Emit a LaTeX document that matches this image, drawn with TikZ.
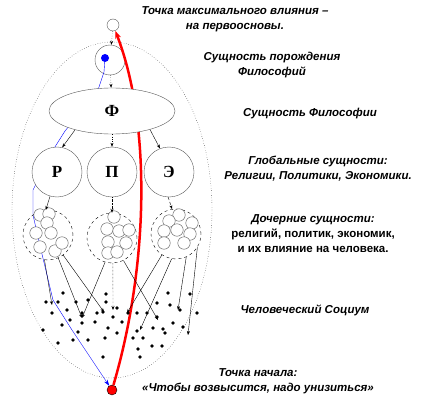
\documentclass[tikz,border=0pt]{standalone}
\usepackage{fontspec}
\setmainfont{Liberation Serif}
\setsansfont{Liberation Sans}
\usepackage{tikz}
\usetikzlibrary{shapes.geometric,arrows.meta,positioning,backgrounds}

\begin{document}
\begin{tikzpicture}[x=1pt, y=-1pt,
    ent/.style={circle, draw=black!65, fill=white, inner sep=0pt},
    big/.style={ent, minimum size=50pt, font=\rmfamily\bfseries\fontsize{17}{17}\selectfont},
    ball/.style={ent, minimum size=12.5pt},
    grp/.style={circle, draw, dashed, minimum size=50pt, inner sep=0pt},
    arr/.style={-{Stealth[length=4pt, width=3pt]}, thin},
    txt/.style={align=center, font=\sffamily\bfseries\itshape\fontsize{11.5}{15}\selectfont}]

    \useasboundingbox (0,0) rectangle (423,404);

    % Outer socium border
    \node[ellipse, draw, dotted, minimum width=200pt, minimum height=336pt] (soc) at (112,210) {};

    % Top points
    \node[ent, minimum size=12pt] (tc) at (113,25) {};
    \node[ent, minimum size=30pt] (gc) at (110,60) {};
    \node[circle, draw, fill=red, inner sep=0pt, minimum size=10pt] (sp) at (112,390) {};

    % Paths of ascent
    \draw[blue, thin, -{Stealth[length=6pt, width=4pt]}] (105,58) -- (104,72) -- (98,90) -- (65,131) -- (53,150)
        -- (33,190) -- (33,215) -- (41,250) -- (53,300) -- (72,330) -- (sp);
    \draw[red, line width=2.5pt, -{Stealth[length=8pt, width=6pt]}]
        (sp) .. controls (150,260) and (150,120) .. (tc);
    \node[circle, fill=blue, inner sep=0pt, minimum size=8pt] (bd) at (105,58) {};

    % Philosophy
    \node[ellipse, draw=black!65, fill=white, minimum width=126pt, minimum height=46pt,
          font=\rmfamily\bfseries\fontsize{17}{17}\selectfont] (phi) at (112,111) {Ф};

    % Global entities
    \node[big] (rel) at (57,172) {Р};
    \node[big] (pol) at (112,172) {П};
    \node[big] (eco) at (169,172) {Э};

    % Child entities
    \node[grp] (crel) at (48,235) {};
    \node[grp] (cpol) at (112,238) {};
    \node[grp] (ceco) at (176,234) {};
    \foreach \x/\y [count=\i] in {40/215, 49/214, 47/223, 36/233, 51/233, 40/247, 55/251, 62/243}
        \node[ball] (r\i) at (\x,\y) {};
    \foreach \x/\y [count=\i] in {114/217, 107/229, 119/231, 129/230, 108/242, 126/243, 108/253, 117/252}
        \node[ball] (p\i) at (\x,\y) {};
    \foreach \x/\y [count=\i] in {179/215, 169/221, 192/223, 164/231, 177/230, 190/234, 164/243, 184/243}
        \node[ball] (e\i) at (\x,\y) {};

    % Human socium dots
    \foreach \x/\y in {63/293, 46/302, 58/302, 52/313, 76/302, 88/300, 106/294, 106/302,
        67/310, 97/313, 82/313, 103/312, 117/308, 128/313, 137/313, 147/313, 168/293,
        190/294, 170/305, 157/303, 43/330, 62/325, 70/320, 82/323, 95/322, 108/328,
        113/317, 117/333, 137/331, 153/328, 163/329, 173/323, 183/327, 197/313, 58/343,
        73/340, 78/332, 88/340, 105/338, 133/338, 143/338, 152/346, 138/349, 162/346,
        140/357, 103/357, 157/317, 180/310, 165/333, 122/322}
        \fill (\x,\y) circle (1.8pt);

    % Connectors
    \draw[arr, dotted] (tc) -- (gc);
    \draw[arr, dotted] (gc) -- (phi);
    \draw[arr] (phi.207) -- (rel.78);
    \draw[arr, dotted] (phi.south) -- (pol.north);
    \draw[arr] (phi.334) -- (eco.111);
    \draw[arr] (rel.254) -- (crel.95);
    \draw[arr, densely dotted, thick] (pol.south) -- (cpol.north);
    \draw[arr, densely dashed] (eco.268) -- (ceco.99);

    % Influence on the socium
    \foreach \s/\x/\y/\st [count=\i] in {crel.262/52/305/solid, crel.294/82/318/solid,
        crel.307/104/312/solid, cpol.254/82/318/solid, cpol.272/113/310/densely dotted,
        cpol.297/158/320/solid, ceco.236/127/313/solid, ceco.260/140/330/solid,
        ceco.294/178/310/solid, ceco.328/188/335/solid} {
        \coordinate (t\i) at (\x,\y);
        \draw[arr, \st] (\s) -- (t\i);
    }

    % Labels
    \node[txt] (ltop) at (235,19.5) {Точка максимального влияния --\\на первоосновы.};
    \node[txt] (lgen) at (272,65) {Сущность порождения\\Философий};
    \node[txt] (lphil) at (310,114) {Сущность Философии};
    \node[txt] (lglob) at (318,169) {Глобальные сущности:\\Религии, Политики, Экономики.};
    \node[txt] (lchild) at (313,233.5) {Дочерние сущности:\\{\upshape религий, политик, экономик,}\\{\upshape и их влияние на человека.}};
    \node[txt] (lsoc) at (305,310) {Человеческий Социум};
    \node[txt] (lstart) at (258,381.5) {Точка начала:\\«Чтобы возвысится, надо унизиться»};
\end{tikzpicture}
\end{document}
